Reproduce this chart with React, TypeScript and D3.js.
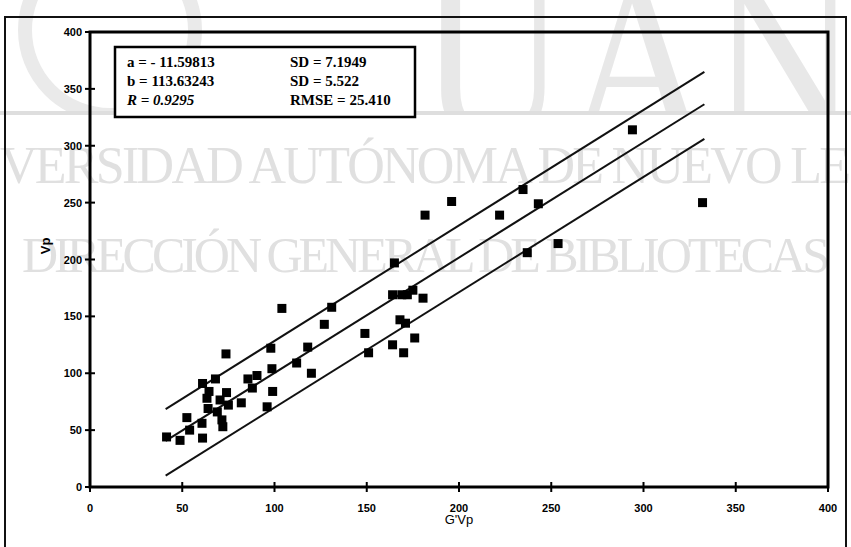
import React, { useEffect, useRef } from "react";
import * as d3 from "d3";

// G'Vp (x) and Vp (y)
const gvp = [41.5, 48.8, 54, 52.5, 60.7, 61, 71.5, 72, 64, 69, 63.4, 70.5, 75, 64.5, 74, 61, 68, 82, 85.6, 90.5, 88, 99, 96, 73.7, 98, 98.6, 112, 104, 118, 120, 127, 131, 149, 151, 165, 164, 169, 172, 175, 180.5, 168, 171, 176, 164, 170, 181.6, 196, 222, 234.7, 243, 237, 253.7, 294, 332];
const vp = [44, 41, 50, 61, 56, 43, 59, 53, 69, 66, 78, 76.5, 72, 84, 83, 91, 95, 74, 95, 98, 87, 84, 70.5, 117, 122, 104, 109, 157, 123, 100, 143, 158, 135, 118, 197, 169, 169, 169, 173, 166, 147, 144, 131, 125, 118, 239, 251, 239, 261.5, 249, 206, 214, 314, 250];

// fitted line and the two bounds (start / end)
const lineX = [41, 333];
const lineMid = [40.5, 336.5];
const lineUpper = [68.5, 365];
const lineLower = [10, 306];

const ticks = [0, 50, 100, 150, 200, 250, 300, 350, 400];
const yTickLabels = ["0", "50", "100", "150", "200", "250", "300", "350", "400"];
const statsLeft = ["a = - 11.59813", "b = 113.63243", "R = 0.9295"];
const statsRight = ["SD = 7.1949", "SD = 5.522", "RMSE = 25.410"];

const App = () => {
  const svgRef = useRef<SVGSVGElement>(null);
  useEffect(() => {
    const svg = d3.select(svgRef.current);
    svg.selectAll("*").remove();
    const width = 851;
    const height = 547;
    const margin = { top: 32, right: 23, bottom: 60, left: 90 };

    const x = d3.scaleLinear().domain([0, 400]).range([margin.left, width - margin.right]);
    const y = d3.scaleLinear().domain([0, 400]).range([height - margin.bottom, margin.top]);

    svg.append("rect").attr("width", width).attr("height", height).attr("fill", "#fff");

    // scanned watermark
    const wm = svg.append("g").attr("fill", "#e0e0e0").attr("font-family", "Liberation Serif");
    svg.append("clipPath").attr("id", "wmclip")
      .append("rect").attr("x", 0).attr("y", 0).attr("width", width).attr("height", 111);
    wm.append("text").attr("x", 420).attr("y", 140).attr("font-size", 230)
      .attr("fill", "#e8e8e8")
      .attr("clip-path", "url(#wmclip)").attr("textLength", 560)
      .attr("lengthAdjust", "spacingAndGlyphs").text("UANL");
    wm.append("circle").attr("cx", 110).attr("cy", 30).attr("r", 85)
      .attr("fill", "none").attr("stroke", "#eaeaea").attr("stroke-width", 14)
      .attr("clip-path", "url(#wmclip)");
    wm.append("rect").attr("x", 0).attr("y", 111).attr("width", width).attr("height", 4).attr("fill", "#dedede");
    wm.append("text").attr("x", 0).attr("y", 183).attr("font-size", 52)
      .attr("textLength", 851).text("VERSIDAD AUTÓNOMA DE NUEVO LE");
    wm.append("text").attr("x", 22).attr("y", 272).attr("font-size", 50)
      .attr("textLength", 808).text("DIRECCIÓN GENERAL DE BIBLIOTECAS");

    // outer frame of the figure
    svg.append("path").attr("d", `M5,${height} V17 H846 V${height}`)
      .attr("fill", "none").attr("stroke", "#111").attr("stroke-width", 2);

    // plot box
    svg.append("rect")
      .attr("x", x(0)).attr("y", y(400))
      .attr("width", x(400) - x(0)).attr("height", y(0) - y(400))
      .attr("fill", "none").attr("stroke", "#000").attr("stroke-width", 3);

    // cross ticks
    svg.append("g").selectAll("line").data(ticks).join("line")
      .attr("x1", (d) => x(d)).attr("x2", (d) => x(d))
      .attr("y1", y(0) - 5).attr("y2", y(0) + 5)
      .attr("stroke", "#000").attr("stroke-width", 2);
    svg.append("g").selectAll("line").data(ticks).join("line")
      .attr("y1", (d) => y(d)).attr("y2", (d) => y(d))
      .attr("x1", x(0) - 5).attr("x2", x(0) + 5)
      .attr("stroke", "#000").attr("stroke-width", 2);

    svg.append("g").selectAll("text").data(ticks).join("text")
      .attr("x", (d) => x(d)).attr("y", y(0) + 25)
      .attr("text-anchor", "middle")
      .attr("font-family", "Liberation Sans").attr("font-weight", "bold").attr("font-size", 11)
      .text((d) => String(d));
    svg.append("g").selectAll("text").data(ticks).join("text")
      .attr("x", x(0) - 8).attr("y", (d) => y(d) + 4)
      .attr("text-anchor", "end")
      .attr("font-family", "Liberation Sans").attr("font-weight", "bold").attr("font-size", 11)
      .text((d, i) => yTickLabels[i]);

    svg.append("text")
      .attr("x", x(200)).attr("y", height - 23)
      .attr("text-anchor", "middle")
      .attr("font-family", "Liberation Sans").attr("font-size", 13)
      .text("G'Vp");
    svg.append("text")
      .attr("transform", `translate(50,${y(212)}) rotate(-90)`)
      .attr("text-anchor", "middle")
      .attr("font-family", "Liberation Sans").attr("font-weight", "bold").attr("font-size", 13)
      .text("Vp");

    // regression line and bounds
    const line = d3.line<number>().x((d, i) => x(lineX[i])).y((d) => y(d));
    [lineUpper, lineMid, lineLower].forEach((ys) => {
      svg.append("path").attr("d", line(ys)).attr("fill", "none")
        .attr("stroke", "#111").attr("stroke-width", 2);
    });

    // points
    const s = 9;
    svg.append("g").selectAll("rect").data(gvp).join("rect")
      .attr("x", (d) => x(d) - s / 2)
      .attr("y", (d, i) => y(vp[i]) - s / 2)
      .attr("width", s).attr("height", s)
      .attr("fill", "#000");

    // stats box
    svg.append("rect").attr("x", 115).attr("y", 47).attr("width", 300).attr("height", 70)
      .attr("fill", "#fff").attr("stroke", "#000").attr("stroke-width", 2.5);
    const stats = svg.append("g").attr("font-family", "Liberation Serif")
      .attr("font-weight", "bold").attr("font-size", 15);
    stats.selectAll(".l").data(statsLeft).join("text").attr("class", "l")
      .attr("x", 127).attr("y", (d, i) => 67 + i * 19)
      .attr("font-style", (d, i) => (i === 2 ? "italic" : "normal"))
      .text((d) => d);
    stats.selectAll(".r").data(statsRight).join("text").attr("class", "r")
      .attr("x", 290).attr("y", (d, i) => 67 + i * 19)
      .text((d) => d);
  }, []);
  return (
    <svg ref={svgRef} width={851} height={547}
      style={{ position: "absolute", left: 0, top: 0 }}></svg>
  );
};

export default App;
